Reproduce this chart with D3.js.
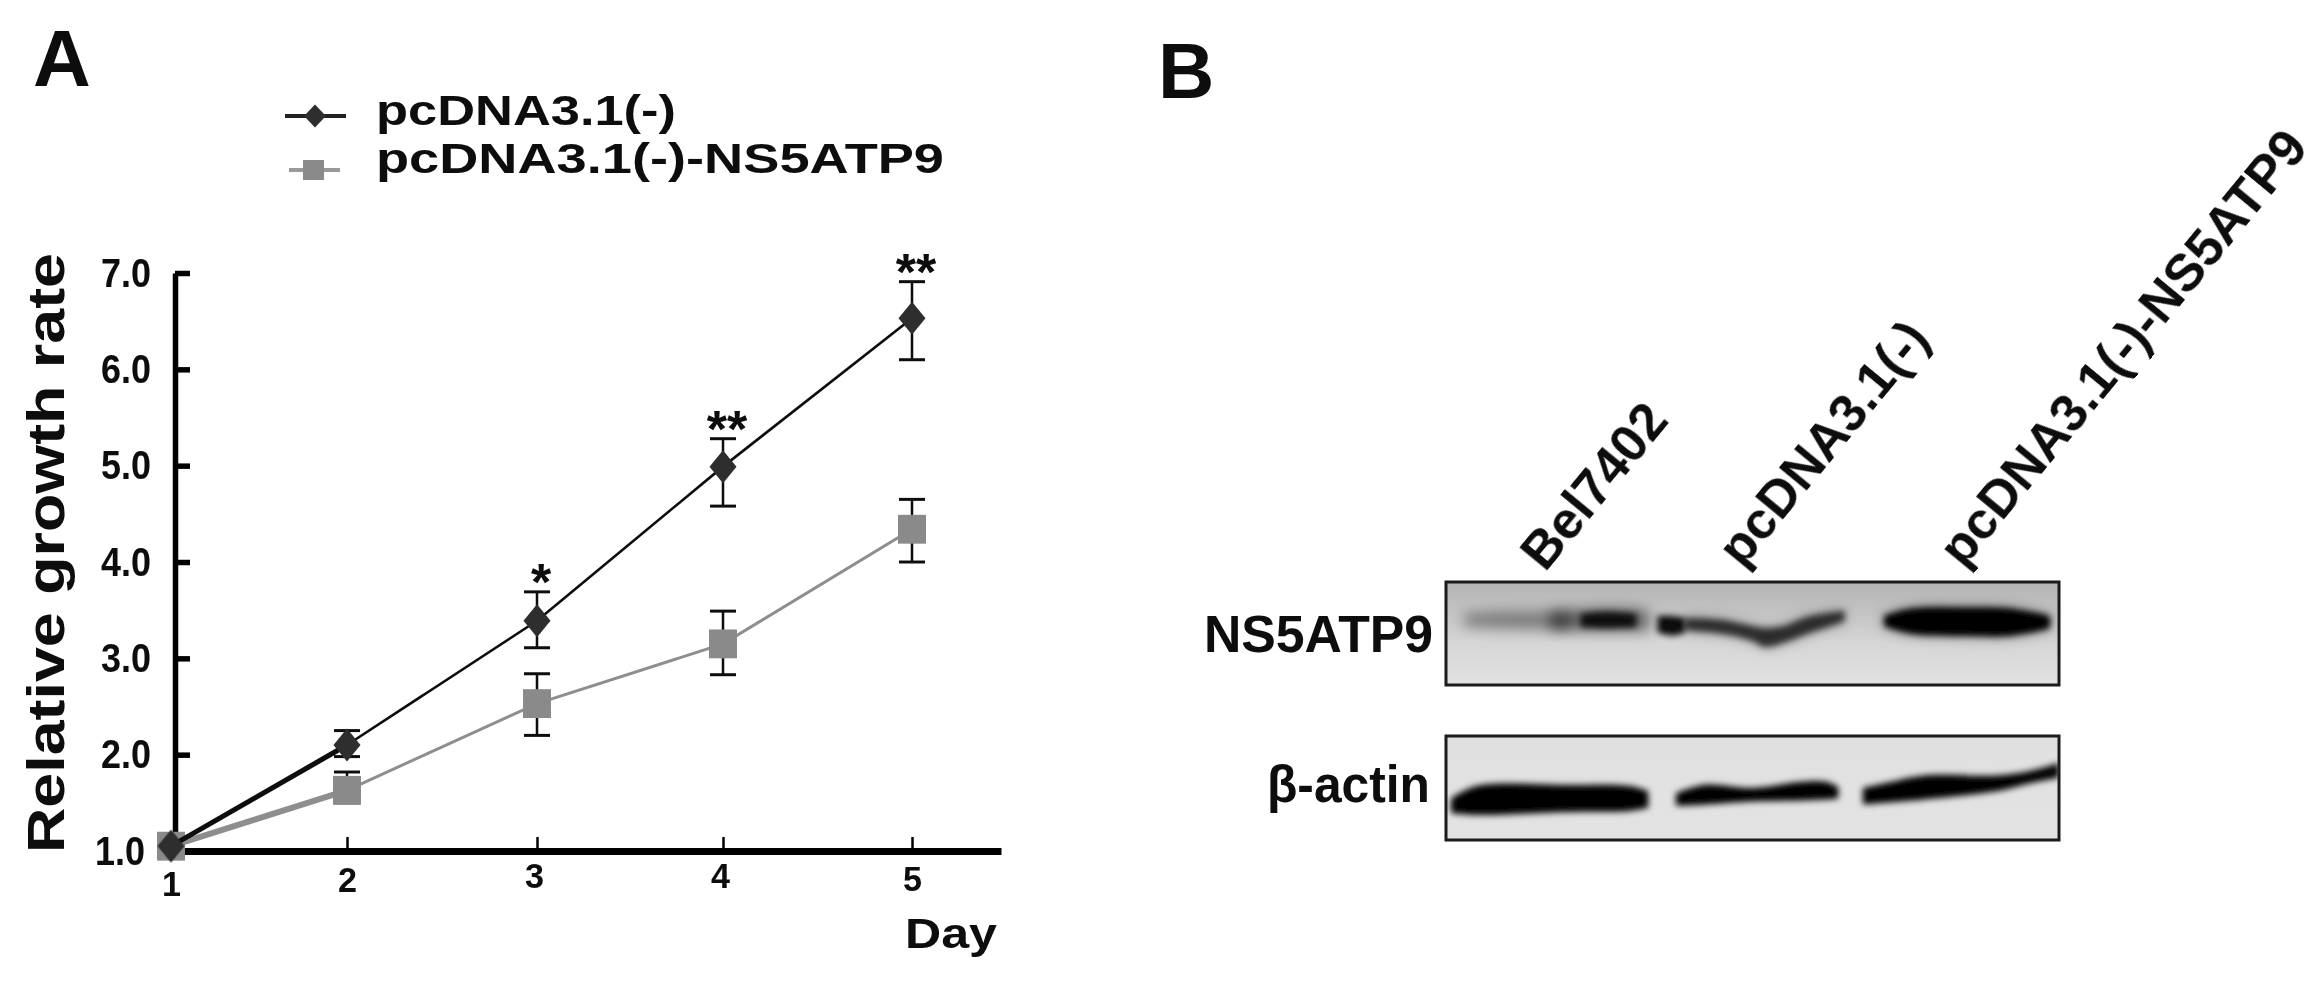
<!DOCTYPE html>
<html><head><meta charset="utf-8">
<script src="https://cdn.jsdelivr.net/npm/d3@7"></script>
<style>html,body{margin:0;background:#fff}svg{display:block}text{font-family:"Liberation Sans",Arial,sans-serif;font-weight:bold;fill:#0a0a0a}</style>
</head><body><div id="c"></div>
<script>
const days=[1,2,3,4,5];
const yTicks=[1,2,3,4,5,6,7];
const seriesNames=["pcDNA3.1(-)","pcDNA3.1(-)-NS5ATP9"];
const controlMean=[1.05,2.10,3.39,4.99,6.53];
const controlHigh=[1.05,2.25,3.69,5.28,6.91];
const controlLow=[1.05,1.98,3.11,4.58,6.10];
const treatedMean=[1.05,1.63,2.53,3.15,4.34];
const treatedHigh=[1.05,1.82,2.84,3.49,4.65];
const treatedLow=[1.05,1.50,2.20,2.83,4.00];
const significance=["","","*","**","**"];
const laneLabels=["Bel7402","pcDNA3.1(-)","pcDNA3.1(-)-NS5ATP9"];
// blot band outlines, in percent of blot width / height: [u, top, bottom]
const ns5Faint=[[3,31,43],[10,29,45],[20,29,46]];
const ns5Lane1=[[17,29,46],[22,27,47],[28,26,47],[33,28,47]];
const ns5Lane1Core=[[22,31,44],[26,29,45],[31,31,44]];
const ns5Dot=[[34.5,33,49],[37,33,52],[39,35,49]];
const ns5Wave=[[39,35,47],[45,37,50],[50,43,57],[52,45,63],[55,43,59],[59,34,50],[65,28,38]];
const ns5Lane3=[[71.5,33,43],[76,26,50],[85,25,52],[92,26,52],[98.5,33,45]];
const actinLane1=[[0.8,60,74],[5,48,76],[20,47,73],[30,48,72],[33,53,69]];
const actinLane2=[[37.5,55,67],[42,47,66],[50,50,63],[58,44,62],[62,44,61],[64,49,60]];
const actinLane3=[[68,50,66],[72,45,64],[78,38,61],[90,38,53],[95,34,46],[100,26,40]];

const svg=d3.select("#c").append("svg").attr("width",2323).attr("height",984);
const defs=svg.append("defs");
defs.append("filter").attr("id","soft").attr("x","-2%").attr("y","-2%").attr("width","104%").attr("height","104%")
  .append("feGaussianBlur").attr("stdDeviation",0.7);
defs.append("filter").attr("id","b3").attr("x","-30%").attr("y","-60%").attr("width","160%").attr("height","220%")
  .append("feGaussianBlur").attr("stdDeviation",3);
defs.append("filter").attr("id","b7").attr("x","-30%").attr("y","-80%").attr("width","160%").attr("height","260%")
  .append("feGaussianBlur").attr("stdDeviation",7);
const g1=defs.append("linearGradient").attr("id","bg1").attr("x1",0).attr("y1",0).attr("x2",0).attr("y2",1);
[[0,"#b4b4b4"],[.3,"#c4c4c4"],[.6,"#d6d6d6"],[1,"#e2e2e2"]].forEach(s=>g1.append("stop").attr("offset",s[0]).attr("stop-color",s[1]));
const g2=defs.append("linearGradient").attr("id","bg2").attr("x1",0).attr("y1",0).attr("x2",0).attr("y2",1);
[[0,"#e0e0e0"],[1,"#e3e3e3"]].forEach(s=>g2.append("stop").attr("offset",s[0]).attr("stop-color",s[1]));

const root=svg.append("g").attr("filter","url(#soft)");

// panel letters
root.append("text").attr("x",33).attr("y",86).attr("font-size",80).text("A");
root.append("text").attr("x",1158).attr("y",98).attr("font-size",78).text("B");

// ---- panel A
const x=d3.scaleLinear().domain([1,2,3,4,5,5.47]).range([171,347,537,723,912,1001]);
const y=d3.scaleLinear().domain([1,7]).range([851,273]);
const axisLeftX=175;

const yAxis=d3.axisLeft(y).tickValues(yTicks).tickFormat(d3.format(".1f")).tickSizeInner(-15).tickSizeOuter(0).tickPadding(24);
const ya=root.append("g").attr("transform",`translate(${axisLeftX},0)`).call(yAxis);
ya.select(".domain").attr("stroke","#000").attr("stroke-width",5.5);
ya.selectAll(".tick line").attr("stroke","#000").attr("stroke-width",5.5);
ya.selectAll(".tick text").attr("font-size",41).attr("textLength",50).attr("lengthAdjust","spacingAndGlyphs").style("fill","#0a0a0a")
  .attr("dx",d=>d===1?-6:0);

const xAxis=d3.axisBottom(x).tickValues(days).tickFormat(d3.format("d")).tickSizeInner(-14).tickSizeOuter(0).tickPadding(17);
const xa=root.append("g").attr("transform",`translate(0,${y(1)})`).call(xAxis);
xa.select(".domain").attr("stroke","#000").attr("stroke-width",7);
xa.selectAll(".tick line").attr("stroke","#000").attr("stroke-width",2.5);
const xLabelNudge=[4,0,-4,-4,-1];
xa.selectAll(".tick text").attr("font-size",35).attr("textLength",19).attr("lengthAdjust","spacingAndGlyphs").style("fill","#0a0a0a").attr("dy",(d,i)=>xLabelNudge[i]+24).attr("dx",(d,i)=>i==2||i==3?-3:0);

root.append("text").attr("x",905).attr("y",948).attr("font-size",43).attr("textLength",92).attr("lengthAdjust","spacingAndGlyphs").text("Day");
root.append("text").attr("transform","translate(64,853) rotate(-90)").attr("font-size",51).attr("textLength",600).attr("lengthAdjust","spacingAndGlyphs").text("Relative growth rate");

const square=d3.symbol().type(d3.symbolSquare).size(784)();
const diamond=d3.symbol().type(d3.symbolDiamond2).size(574)();

function drawSeries(mean,high,low,colLine,colMark,thinW,thickW,markPath,mt){
  const pts=days.map((d,i)=>({d,m:mean[i],h:high[i],l:low[i]}));
  const g=root.append("g");
  // error bars
  const eb=g.selectAll("g.e").data(pts.slice(1)).join("g");
  eb.append("line").attr("x1",p=>x(p.d)).attr("x2",p=>x(p.d)).attr("y1",p=>y(p.h)).attr("y2",p=>y(p.l)).attr("stroke","#111").attr("stroke-width",2.5);
  ["h","l"].forEach(k=>eb.append("line").attr("x1",p=>x(p.d)-13).attr("x2",p=>x(p.d)+13).attr("y1",p=>y(p[k])).attr("y2",p=>y(p[k])).attr("stroke","#111").attr("stroke-width",3));
  const ln=d3.line().x(p=>x(p.d)).y(p=>y(p.m));
  g.append("path").attr("d",ln(pts.slice(0,2))).attr("fill","none").attr("stroke",colLine).attr("stroke-width",thickW);
  g.append("path").attr("d",ln(pts.slice(1))).attr("fill","none").attr("stroke",colLine).attr("stroke-width",thinW);
  g.selectAll("path.m").data(pts).join("path").attr("class","m").attr("d",markPath).attr("fill",colMark)
    .attr("transform",p=>`translate(${x(p.d)},${y(p.m)}) ${mt}`);
}
drawSeries(treatedMean,treatedHigh,treatedLow,"#8e8e8e","#8a8a8a",3,6,square,"scale(1,1.03)");
drawSeries(controlMean,controlHigh,controlLow,"#0c0c0c","#2e2e2e",2.6,5,diamond,"scale(.9,1.1)");

root.selectAll("text.sig").data(days.map((d,i)=>({d,s:significance[i],h:controlHigh[i]})).filter(p=>p.s)).join("text")
  .attr("class","sig").attr("x",p=>x(p.d)+4).attr("y",p=>y(p.h)+8).attr("text-anchor","middle").attr("font-size",52).text(p=>p.s);

// legend
const leg=root.append("g");
leg.append("line").attr("x1",285).attr("x2",346).attr("y1",116).attr("y2",116).attr("stroke","#222").attr("stroke-width",4);
leg.append("path").attr("d",d3.symbol().type(d3.symbolDiamond2).size(337)()).attr("fill","#2e2e2e").attr("transform","translate(315,116) scale(.95,1)");
leg.append("line").attr("x1",289).attr("x2",340).attr("y1",170).attr("y2",170).attr("stroke","#999").attr("stroke-width",4);
leg.append("rect").attr("x",303).attr("y",160).attr("width",21).attr("height",20).attr("fill","#8a8a8a");
leg.append("text").attr("x",376).attr("y",125).attr("font-size",43).attr("textLength",300).attr("lengthAdjust","spacingAndGlyphs").text(seriesNames[0]);
leg.append("text").attr("x",376).attr("y",173).attr("font-size",43).attr("textLength",568).attr("lengthAdjust","spacingAndGlyphs").text(seriesNames[1]);

// ---- panel B
const laneAnchor=[[1545,573],[1742,569],[1963,569]];
root.selectAll("text.lane").data(laneLabels).join("text").attr("class","lane")
  .attr("transform",(d,i)=>`translate(${laneAnchor[i][0]},${laneAnchor[i][1]}) rotate(-50.5)`)
  .attr("font-size",52).text(d=>d);

function blot(id,x0,y0,x1,y1,fill,layers){
  const u=d3.scaleLinear().domain([0,100]).range([x0,x1]);
  const v=d3.scaleLinear().domain([0,100]).range([y0,y1]);
  const cp=defs.append("clipPath").attr("id",id);
  cp.append("rect").attr("x",x0).attr("y",y0).attr("width",x1-x0).attr("height",y1-y0);
  root.append("rect").attr("x",x0).attr("y",y0).attr("width",x1-x0).attr("height",y1-y0).attr("fill",fill);
  const g=root.append("g").attr("clip-path",`url(#${id})`);
  const area=d3.area().x(p=>u(p[0])).y0(p=>v(p[1])).y1(p=>v(p[2])).curve(d3.curveCatmullRom.alpha(.5));
  layers.forEach(l=>g.append("path").attr("d",area(l.band)).attr("fill",l.fill||"#000").attr("opacity",l.op).attr("filter",`url(#${l.f})`));
  root.append("rect").attr("x",x0).attr("y",y0).attr("width",x1-x0).attr("height",y1-y0).attr("fill","none").attr("stroke","#1a1a1a").attr("stroke-width",3);
}
blot("b1",1446,582,2059,685,"url(#bg1)",[
  {band:ns5Faint,op:.4,f:"b7"},
  {band:ns5Lane1,op:.55,f:"b7"},
  {band:ns5Lane1Core,op:.85,f:"b3"},
  {band:ns5Dot,op:.95,f:"b3"},
  {band:ns5Wave,op:.35,f:"b7"},
  {band:ns5Wave,op:.7,f:"b3"},
  {band:ns5Lane3,op:.5,f:"b7"},
  {band:ns5Lane3,op:1,f:"b3"}
]);
blot("b2",1446,736,2059,840,"url(#bg2)",[
  {band:actinLane1,op:1,f:"b3"},
  {band:actinLane2,op:1,f:"b3"},
  {band:actinLane3,op:1,f:"b3"}
]);
root.append("text").attr("x",1433).attr("y",652).attr("text-anchor","end").attr("font-size",52).attr("textLength",229).attr("lengthAdjust","spacingAndGlyphs").text("NS5ATP9");
root.append("text").attr("x",1430).attr("y",802).attr("text-anchor","end").attr("font-size",52).attr("textLength",163).attr("lengthAdjust","spacingAndGlyphs").text("β-actin");
</script></body></html>
